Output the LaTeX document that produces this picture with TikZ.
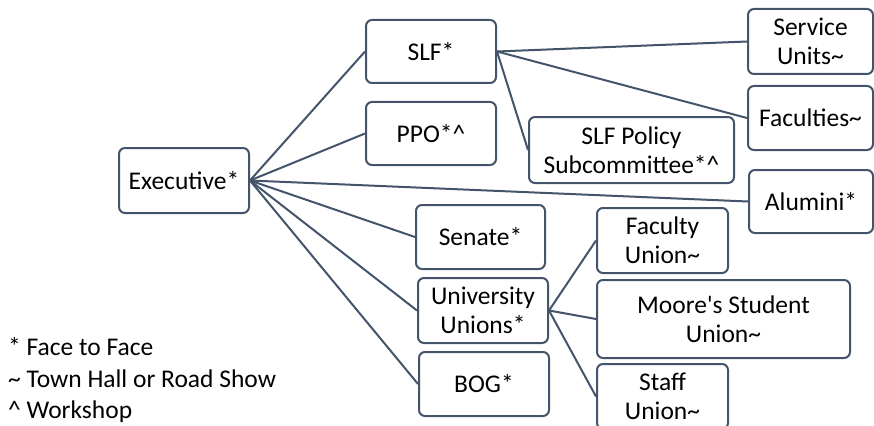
\documentclass[tikz,border=0pt]{standalone}
\usepackage{fontspec}
\setmainfont{Carlito}
\definecolor{edgeblue}{HTML}{44546A}
\begin{document}
\begin{tikzpicture}[x=1pt,y=-1pt,
  every node/.style={font=\fontsize{25.5}{29}\selectfont},
  box/.style={draw=edgeblue, line width=2pt, rounded corners=6pt, align=center,
    inner sep=0pt, fill=white, text=black},
  link/.style={draw=edgeblue, line width=2pt},
  legend/.style={anchor=base west, inner sep=0pt, text=black}]
\useasboundingbox (0,0) rectangle (874,425);

% boxes: centre, width, height
\node[box, minimum width=130, minimum height=65] (exec)   at (184,180.5) {Executive*};
\node[box, minimum width=130, minimum height=63] (slf)    at (431,51.5)  {SLF*};
\node[box, minimum width=130, minimum height=63] (ppo)    at (431,133.5) {PPO*\^{}};
\node[box, minimum width=125, minimum height=65] (su)     at (810.5,41.5) {Service\\Units\textasciitilde};
\node[box, minimum width=125, minimum height=64] (fac)    at (810.5,118) {Faculties\textasciitilde};
\node[box, minimum width=124, minimum height=63] (alum)   at (811,201.5) {Alumini*};
\node[box, minimum width=205, minimum height=66] (pol)    at (631.5,150) {SLF Policy\\Subcommittee*\^{}};
\node[box, minimum width=129, minimum height=64] (senate) at (480.5,237) {Senate*};
\node[box, minimum width=130, minimum height=65] (uu)     at (483,310.5) {University\\Unions*};
\node[box, minimum width=130, minimum height=64] (bog)    at (484,384) {BOG*};
\node[box, minimum width=131, minimum height=65] (fu)     at (662.5,240.5) {Faculty\\Union\textasciitilde};
\node[box, minimum width=253, minimum height=78] (msu)    at (723.5,319) {Moore\textquotesingle s Student\\Union\textasciitilde};
\node[box, minimum width=131, minimum height=65] (staff)  at (662.5,396.5) {Staff\\Union\textasciitilde};

% connectors
\foreach \t in {slf,ppo,alum,senate,uu,bog}
  \draw[link] (exec.east) -- (\t.west);
\foreach \t in {su,fac,pol}
  \draw[link] (slf.east) -- (\t.west);
\foreach \t in {fu,msu,staff}
  \draw[link] (uu.east) -- (\t.west);

% legend
\node[legend] (l1) at (8,355) {* Face to Face};
\node[legend] (l2) at (8,387) {\textasciitilde{} Town Hall or Road Show};
\node[legend] (l3) at (8,418) {\^{} Workshop};
\end{tikzpicture}
\end{document}
